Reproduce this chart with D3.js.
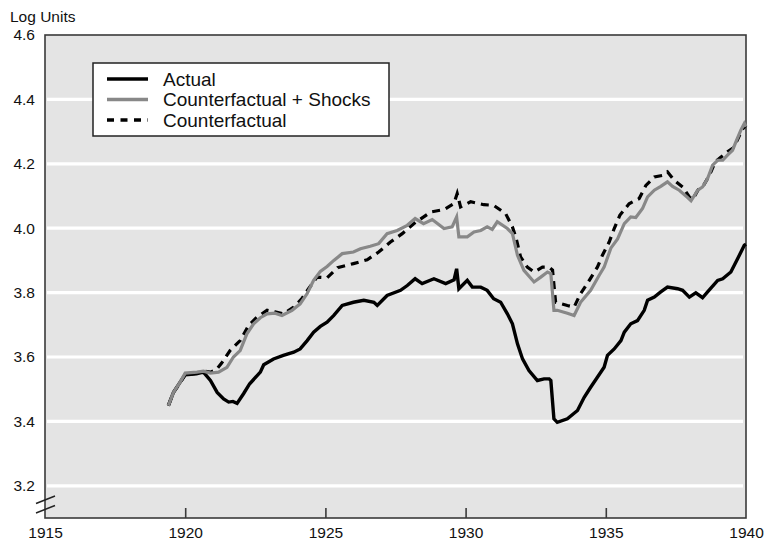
<!DOCTYPE html>
<html>
<head>
<meta charset="utf-8">
<script src="https://cdn.jsdelivr.net/npm/d3@7/dist/d3.min.js"></script>
<style>
    body { margin: 0; background: #fff; }
    svg { display: block; font-family: "Liberation Sans", Arial, Helvetica, sans-serif; }
</style>
</head>
<body>
<svg width="764" height="541"></svg>
<script>
// values, log units by date (fractional year)
const actualYears = [1919.4, 1919.58, 1919.82, 1920.0, 1920.4, 1920.65, 1920.9, 1921.14, 1921.37, 1921.55, 1921.7, 1921.85,
    1922.08, 1922.3, 1922.68, 1922.8, 1923.15, 1923.5, 1923.87, 1924.1, 1924.35, 1924.58, 1924.82, 1925.06, 1925.3, 1925.6,
    1926.0, 1926.37, 1926.73, 1926.85, 1927.2, 1927.68, 1927.92, 1928.2, 1928.45, 1928.87, 1929.29, 1929.59, 1929.68, 1929.76,
    1930.06, 1930.24, 1930.54, 1930.77, 1931.0, 1931.25, 1931.49, 1931.67, 1931.85, 1932.03, 1932.26, 1932.56, 1932.8, 1932.98,
    1933.04, 1933.15, 1933.27, 1933.63, 1933.99, 1934.23, 1934.46, 1934.7, 1934.94, 1935.06, 1935.3, 1935.54, 1935.66, 1935.89,
    1936.13, 1936.37, 1936.49, 1936.73, 1936.96, 1937.2, 1937.56, 1937.74, 1937.98, 1938.21, 1938.45, 1938.63, 1938.99, 1939.17,
    1939.46, 1939.7, 1939.94, 1940.0];
const actualValues = [3.449, 3.49, 3.522, 3.545, 3.548, 3.553, 3.527, 3.49, 3.47, 3.46, 3.462, 3.456,
    3.486, 3.517, 3.553, 3.576, 3.594, 3.605, 3.615, 3.625, 3.651, 3.677, 3.695, 3.708, 3.729, 3.76,
    3.77, 3.776, 3.77, 3.76, 3.791, 3.807, 3.822, 3.843, 3.828, 3.843, 3.828, 3.84, 3.874, 3.812,
    3.838, 3.817, 3.817, 3.807, 3.781, 3.77, 3.734, 3.703, 3.641, 3.594, 3.558, 3.527, 3.532, 3.532,
    3.527, 3.408, 3.397, 3.408, 3.434, 3.475, 3.506, 3.537, 3.568, 3.605, 3.625, 3.651, 3.677, 3.703,
    3.713, 3.745, 3.776, 3.786, 3.802, 3.817, 3.812, 3.807, 3.786, 3.799, 3.784, 3.802, 3.838, 3.843,
    3.864, 3.905, 3.947, 3.95];

const shocksYears = [1919.4, 1919.58, 1919.82, 1920.0, 1920.42, 1920.65, 1920.9, 1921.19, 1921.49, 1921.72, 1921.96, 1922.2,
    1922.44, 1922.68, 1922.92, 1923.2, 1923.45, 1923.81, 1924.1, 1924.35, 1924.58, 1924.82, 1925.06, 1925.3, 1925.6, 1926.0,
    1926.25, 1926.6, 1926.9, 1927.2, 1927.56, 1927.92, 1928.2, 1928.5, 1928.81, 1929.23, 1929.52, 1929.68, 1929.76, 1930.06,
    1930.3, 1930.54, 1930.77, 1930.95, 1931.13, 1931.49, 1931.67, 1931.85, 1932.08, 1932.44, 1932.68, 1932.92, 1933.04, 1933.15,
    1933.27, 1933.63, 1933.87, 1934.1, 1934.46, 1934.76, 1934.94, 1935.18, 1935.42, 1935.66, 1935.89, 1936.07, 1936.31, 1936.49,
    1936.73, 1936.96, 1937.2, 1937.38, 1937.62, 1937.92, 1938.04, 1938.28, 1938.45, 1938.63, 1938.81, 1938.99, 1939.17, 1939.34,
    1939.52, 1939.64, 1939.82, 1939.94, 1940.0];
const shocksValues = [3.449, 3.49, 3.522, 3.55, 3.553, 3.556, 3.55, 3.553, 3.568, 3.6, 3.62, 3.672,
    3.703, 3.722, 3.734, 3.736, 3.729, 3.745, 3.765, 3.797, 3.838, 3.866, 3.881, 3.9, 3.921, 3.926,
    3.936, 3.944, 3.952, 3.983, 3.993, 4.009, 4.03, 4.014, 4.027, 3.999, 4.004, 4.035, 3.973, 3.973,
    3.988, 3.993, 4.004, 3.996, 4.02, 3.999, 3.983, 3.916, 3.869, 3.833, 3.848, 3.864, 3.859, 3.745,
    3.745, 3.736, 3.729, 3.77, 3.807, 3.853, 3.879, 3.938, 3.967, 4.014, 4.035, 4.033, 4.061, 4.097,
    4.118, 4.13, 4.144, 4.13, 4.118, 4.095, 4.085, 4.118, 4.128, 4.154, 4.196, 4.211, 4.211, 4.227,
    4.242, 4.268, 4.305, 4.325, 4.315];

const counterYears = [1919.4, 1919.58, 1919.82, 1920.0, 1920.42, 1920.65, 1920.9, 1921.1, 1921.3, 1921.6, 1921.96, 1922.26,
    1922.56, 1922.92, 1923.2, 1923.5, 1923.87, 1924.16, 1924.4, 1924.7, 1925.06, 1925.43, 1926.0, 1926.49, 1926.9, 1927.32,
    1927.74, 1928.15, 1928.75, 1929.23, 1929.58, 1929.7, 1929.82, 1930.18, 1930.65, 1931.0, 1931.43, 1931.67, 1931.79, 1931.96,
    1932.2, 1932.44, 1932.74, 1932.98, 1933.1, 1933.21, 1933.63, 1933.87, 1934.1, 1934.34, 1934.7, 1934.88, 1935.12, 1935.3,
    1935.5, 1935.83, 1936.19, 1936.43, 1936.73, 1937.02, 1937.2, 1937.44, 1937.74, 1937.98, 1938.1, 1938.3, 1938.5, 1938.7,
    1938.9, 1939.1, 1939.34, 1939.55, 1939.7, 1939.85, 1940.0];
const counterValues = [3.449, 3.49, 3.52, 3.545, 3.55, 3.556, 3.553, 3.56, 3.581, 3.62, 3.651, 3.698,
    3.724, 3.745, 3.74, 3.734, 3.755, 3.781, 3.812, 3.848, 3.846, 3.877, 3.89, 3.902, 3.926, 3.957,
    3.983, 4.014, 4.05, 4.058, 4.076, 4.108, 4.066, 4.082, 4.073, 4.071, 4.045, 4.004, 3.973, 3.911,
    3.879, 3.864, 3.879, 3.879, 3.87, 3.77, 3.76, 3.755, 3.797, 3.828, 3.879, 3.916, 3.957, 3.999,
    4.04, 4.076, 4.092, 4.133, 4.159, 4.164, 4.175, 4.149, 4.128, 4.097, 4.09, 4.12, 4.135, 4.165,
    4.206, 4.22, 4.237, 4.25, 4.275, 4.305, 4.32];

const yTicks = [3.2, 3.4, 3.6, 3.8, 4.0, 4.2, 4.4, 4.6];
const xTicks = [1915, 1920, 1925, 1930, 1935, 1940];
const legendLabels = ["Actual", "Counterfactual + Shocks", "Counterfactual"];

const LEFT = 45,
    RIGHT = 746,
    TOP = 35,
    BOTTOM = 518,
    AXIS_COLOR = "#3a3a3a",
    FONT_SIZE = 15.5;

const svg = d3.select("svg");

const x = d3.scaleLinear().domain([1915, 1940]).range([LEFT, RIGHT]),
    y = d3.scaleLinear().domain([3.1, 4.6]).range([BOTTOM, TOP]);

// plot background
svg.append("rect")
    .attr("x", LEFT)
    .attr("y", TOP)
    .attr("width", RIGHT - LEFT)
    .attr("height", BOTTOM - TOP)
    .attr("fill", "#e4e4e4");

// white gridlines
svg.append("g")
    .selectAll("line")
    .data(yTicks.filter((d) => d < 4.6))
    .enter()
    .append("line")
    .attr("x1", LEFT + 2)
    .attr("x2", RIGHT - 3)
    .attr("y1", (d) => y(d))
    .attr("y2", (d) => y(d))
    .attr("stroke", "#fff")
    .attr("stroke-width", 3.2);

// frame
svg.append("rect")
    .attr("x", LEFT)
    .attr("y", TOP)
    .attr("width", RIGHT - LEFT)
    .attr("height", BOTTOM - TOP)
    .attr("fill", "none")
    .attr("stroke", AXIS_COLOR)
    .attr("stroke-width", 1.6);

// x axis: inward ticks, labels below
const xAxis = d3.axisBottom(x)
    .tickValues(xTicks)
    .tickSizeInner(-10)
    .tickSizeOuter(0)
    .tickPadding(9)
    .tickFormat(d3.format("d"));

const gx = svg.append("g")
    .attr("transform", `translate(0,${BOTTOM})`)
    .call(xAxis);
gx.select(".domain").remove();
gx.selectAll(".tick line")
    .attr("stroke", AXIS_COLOR)
    .attr("stroke-width", 1.6)
    .filter((d) => d === 1915 || d === 1940)
    .remove();
gx.selectAll(".tick text")
    .attr("fill", "#111")
    .attr("font-size", FONT_SIZE)
    .attr("font-family", null);

// y axis: labels only
const yAxis = d3.axisLeft(y)
    .tickValues(yTicks)
    .tickSize(0)
    .tickPadding(10)
    .tickFormat(d3.format(".1f"));

const gy = svg.append("g")
    .attr("transform", `translate(${LEFT},0)`)
    .call(yAxis);
gy.select(".domain").remove();
gy.selectAll(".tick text")
    .attr("fill", "#111")
    .attr("font-size", FONT_SIZE)
    .attr("font-family", null);

svg.append("text")
    .attr("x", 10)
    .attr("y", 22)
    .attr("font-size", 15.5)
    .attr("fill", "#111")
    .text("Log Units");

// axis break marks
svg.append("g")
    .selectAll("line")
    .data([0, 9.5])
    .enter()
    .append("line")
    .attr("x1", 36)
    .attr("y1", (d) => 503.5 + d)
    .attr("x2", 55)
    .attr("y2", (d) => 496 + d)
    .attr("stroke", "#222")
    .attr("stroke-width", 1.5);

// series
const line = d3.line()
    .x((d) => x(d[0]))
    .y((d) => y(d[1]));

const series = [
    {pts: d3.zip(actualYears, actualValues), color: "#000", width: 3.4, dash: null},
    {pts: d3.zip(counterYears, counterValues), color: "#000", width: 3.2, dash: "8,6"},
    {pts: d3.zip(shocksYears, shocksValues), color: "#888", width: 3.2, dash: null}
];

svg.append("g")
    .selectAll("path")
    .data(series)
    .enter()
    .append("path")
    .attr("d", (d) => line(d.pts))
    .attr("fill", "none")
    .attr("stroke", (d) => d.color)
    .attr("stroke-width", (d) => d.width)
    .attr("stroke-dasharray", (d) => d.dash)
    .attr("stroke-linejoin", "miter");

// legend
const legendStyles = [series[0], series[2], series[1]];

const legend = svg.append("g");
legend.append("rect")
    .attr("x", 93)
    .attr("y", 63)
    .attr("width", 296)
    .attr("height", 73)
    .attr("fill", "#fff")
    .attr("stroke", "#222")
    .attr("stroke-width", 1.5);

const item = legend.selectAll(".item")
    .data(legendLabels)
    .enter()
    .append("g")
    .attr("class", "item")
    .attr("transform", (d, i) => `translate(0,${79 + i * 20.5})`);

item.append("line")
    .attr("x1", 107)
    .attr("x2", 148)
    .attr("stroke", (d, i) => legendStyles[i].color)
    .attr("stroke-width", 3.5)
    .attr("stroke-dasharray", (d, i) => (legendStyles[i].dash ? "7,6.5" : null));

item.append("text")
    .attr("x", 163)
    .attr("y", 6.5)
    .attr("font-size", 19)
    .attr("fill", "#111")
    .text((d) => d);
</script>
</body>
</html>
